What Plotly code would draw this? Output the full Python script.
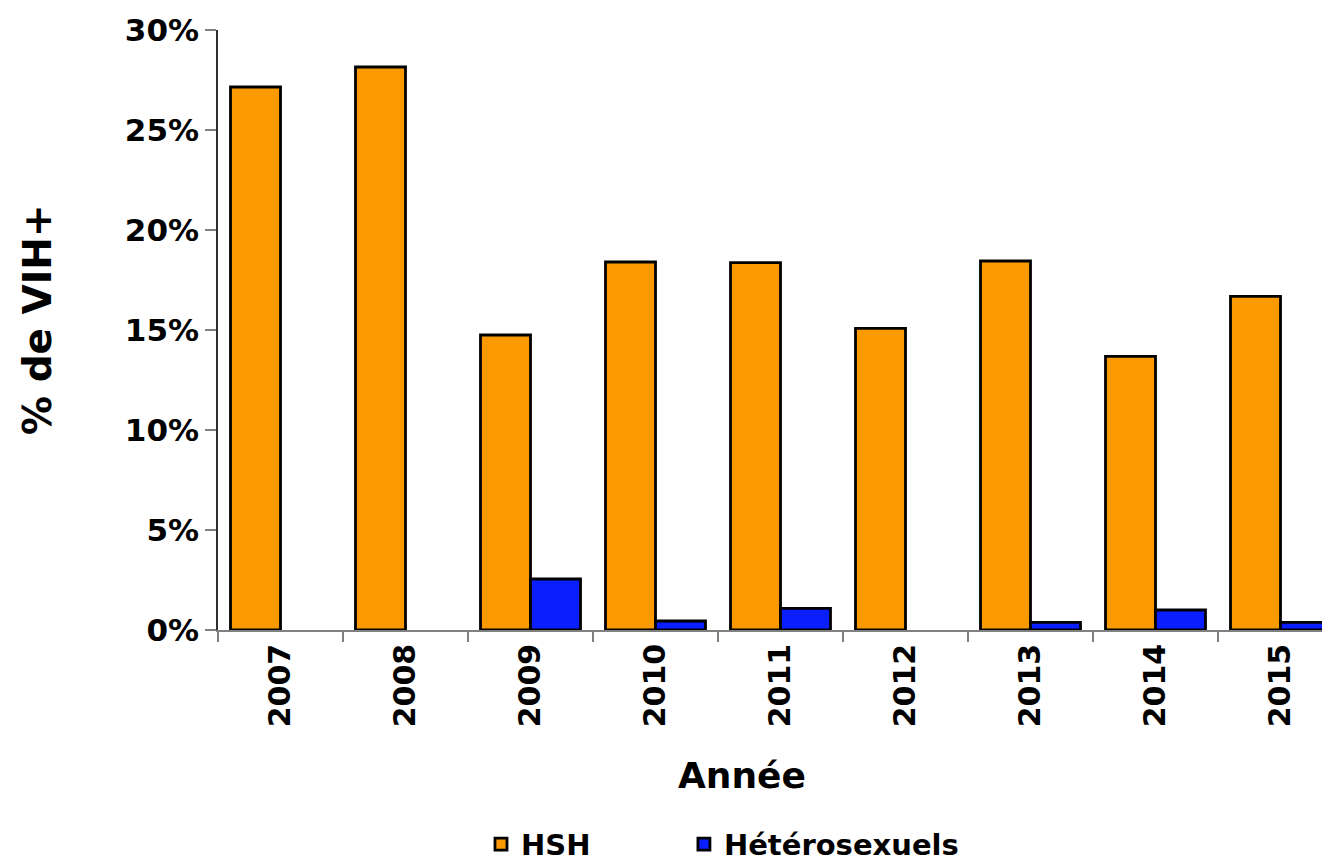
import plotly.graph_objects as go

years = ["2007", "2008", "2009", "2010", "2011", "2012", "2013", "2014", "2015"]
hsh = [27.15, 28.15, 14.75, 18.4, 18.37, 15.08, 18.45, 13.68, 16.68]
hetero = [None, None, 2.55, 0.45, 1.08, None, 0.38, 1.0, 0.38]
y_ticks = [0, 5, 10, 15, 20, 25, 30]

FONT = "DejaVu Sans"
LEG_FONT = dict(family=FONT, size=29, color="black", weight="bold")

fig = go.Figure()
fig.add_trace(go.Bar(
    x=years, y=hsh, name="HSH", legend="legend",
    marker=dict(color="#FA9A00", line=dict(color="#000000", width=2.8)),
))
fig.add_trace(go.Bar(
    x=years, y=hetero, name="Hétérosexuels", legend="legend2",
    marker=dict(color="#0A1EFF", line=dict(color="#000000", width=2.8)),
))

fig.update_layout(
    width=1322, height=854,
    margin=dict(l=210, r=0, t=22, b=232, autoexpand=False),
    paper_bgcolor="white", plot_bgcolor="white",
    barmode="group", bargap=0.2, bargroupgap=0,
    font=dict(family=FONT, color="black"),
    showlegend=True,
    legend=dict(
        orientation="h", x=0.2365, xanchor="left", y=-0.357, yanchor="middle",
        font=LEG_FONT, bgcolor="rgba(0,0,0,0)",
    ),
    legend2=dict(
        orientation="h", x=0.419, xanchor="left", y=-0.357, yanchor="middle",
        font=LEG_FONT, bgcolor="rgba(0,0,0,0)",
    ),
    annotations=[
        dict(
            text="<b>% de VIH+</b>", xref="paper", yref="paper",
            x=0, y=0.5167, xanchor="center", yanchor="middle", xshift=-180,
            textangle=-90, showarrow=False,
            font=dict(family=FONT, size=39, color="black"),
        ),
        dict(
            text="<b>Année</b>", xref="paper", yref="paper",
            x=0.4712, y=-0.2433, xanchor="center", yanchor="middle",
            showarrow=False,
            font=dict(family=FONT, size=36, color="black"),
        ),
    ],
)

fig.update_xaxes(
    type="category", range=[-0.5, 8.396], autorange=False,
    showline=True, linecolor="#808080", linewidth=1.5,
    ticks="outside", tickson="boundaries", ticklen=10, tickcolor="#808080", tickwidth=1.5,
    tickangle=-90,
    tickfont=dict(family=FONT, size=30, color="black", weight="bold"),
    showgrid=False, zeroline=False,
)
fig.update_yaxes(
    range=[0, 30], autorange=False,
    tickvals=y_ticks, ticktext=[f"{v}%" for v in y_ticks],
    showline=True, linecolor="#303030", linewidth=1.5,
    ticks="outside", ticklen=11, tickcolor="#808080", tickwidth=1.5,
    tickfont=dict(family=FONT, size=31, color="black", weight="bold"),
    showgrid=False, zeroline=False,
)

fig.write_html("out.html")
